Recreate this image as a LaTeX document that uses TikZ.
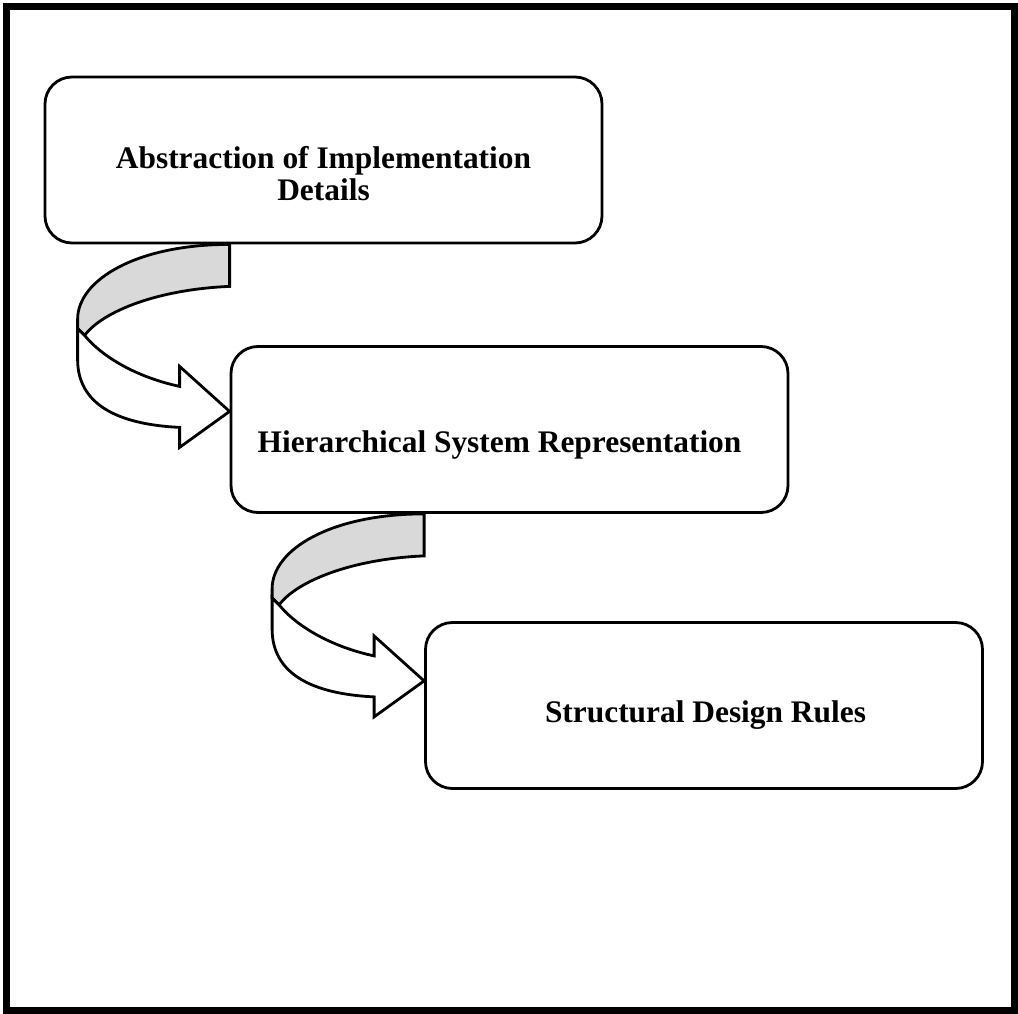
\documentclass[tikz,border=0pt]{standalone}
\usepackage{fontspec}
\setmainfont{Liberation Serif}
\usetikzlibrary{calc}
\begin{document}
\begin{tikzpicture}[x=1pt,y=-1pt,
  stepbox/.style={draw, line width=2.8pt, rounded corners=27pt,
    minimum width=557pt, minimum height=166pt, inner sep=0pt},
  boxtext/.style={font=\bfseries\fontsize{31.4}{32}\selectfont, align=center, inner sep=0pt},
  band/.style={line width=2.8pt, line join=miter},
  % curved ribbon arrow; origin = top right corner of its shaded back face
  curl/.pic={
    \filldraw[band, fill=black!15]
      (0,0) -- (0,42) .. controls (-72,45) and (-127,67) .. (-145,91)
      -- (-152,84) -- (-152,75) .. controls (-152,35) and (-92,0) .. (0,0) -- cycle;
    \filldraw[band, fill=white]
      (-152,84) -- (-145,91) .. controls (-127,113) and (-92,133) .. (-50,142)
      -- (-50,122) -- (0,167) -- (-50,203) -- (-50,183)
      .. controls (-112,180) and (-152,160) .. (-152,115) -- cycle;
  }]
\useasboundingbox (0,0) rectangle (1018,1014);
\fill[white] (0,0) rectangle (1018,1014);
% outer frame
\draw[line width=7pt] (6.5,6.5) rectangle (1014.5,1010);

% the three stages
\node[stepbox] (box1) at (323.5,160) {};
\node[stepbox] (box2) at (509.5,429.5) {};
\node[stepbox] (box3) at (704,705.5) {};

\node[boxtext] (t1) at ($(box1.center)+(0,14)$) {Abstraction of Implementation\\Details};
\node[boxtext, anchor=base] (t2) at ($(box2.center)+(-10,22.5)$) {Hierarchical System Representation};
\node[boxtext, anchor=base] (t3) at ($(box3.center)+(1.5,16.5)$) {Structural Design Rules};

% curved arrows leading from one stage to the next
\pic at (box2.west |- box1.south) {curl};
\pic at (box3.west |- box2.south) {curl};
\end{tikzpicture}
\end{document}
